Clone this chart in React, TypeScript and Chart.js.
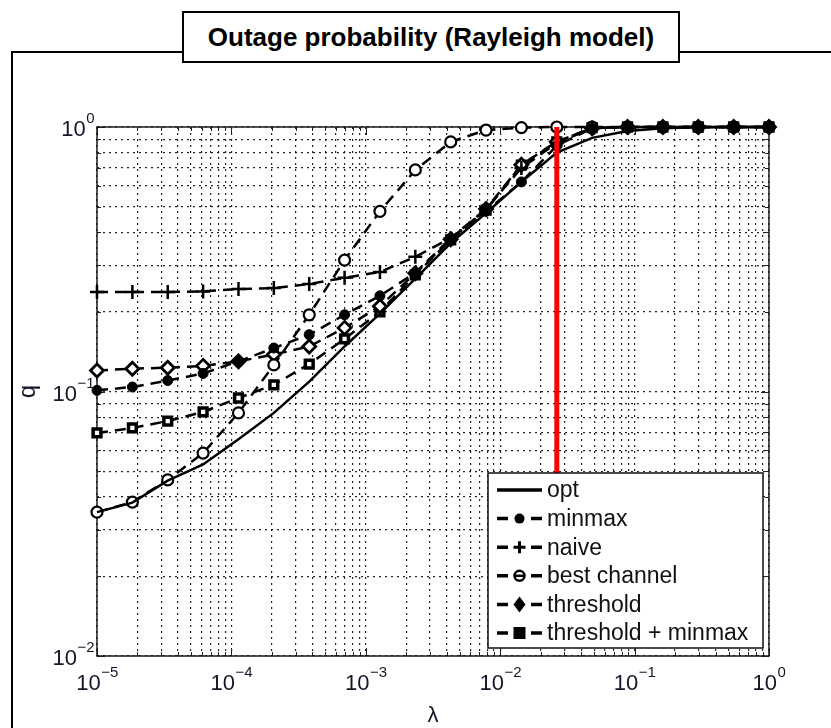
import React, { useEffect, useRef } from 'react';
import { Chart, registerables } from 'chart.js';

Chart.register(...registerables);

// ---- data ----
const LAMBDA = [1e-5, 1.833e-5, 3.36e-5, 6.158e-5, 1.129e-4, 2.069e-4, 3.793e-4, 6.952e-4, 1.274e-3, 2.336e-3,
  4.281e-3, 7.848e-3, 1.438e-2, 2.637e-2, 4.833e-2, 8.859e-2, 0.1624, 0.2976, 0.5456, 1];
const OPT = [0.035, 0.038, 0.046, 0.053, 0.066, 0.083, 0.109, 0.148, 0.197, 0.267, 0.364, 0.473, 0.62, 0.8, 0.91, 0.966, 0.99, 0.998, 1, 1];
const MINMAX = [0.101, 0.104, 0.11, 0.117, 0.13, 0.146, 0.164, 0.195, 0.23, 0.281, 0.38, 0.48, 0.62, 0.85, 0.99, 1, 1, 1, 1, 1];
const NAIVE = [0.238, 0.238, 0.238, 0.239, 0.244, 0.246, 0.255, 0.269, 0.283, 0.323, 0.38, 0.49, 0.7, 0.87, 0.99, 1, 1, 1, 1, 1];
const BEST = [0.035, 0.0382, 0.0463, 0.0585, 0.083, 0.126, 0.195, 0.314, 0.48, 0.688, 0.878, 0.974, 0.995, 1, 1, 1, 1, 1, 1, 1];
const THRESH = [0.12, 0.122, 0.123, 0.125, 0.13, 0.138, 0.148, 0.174, 0.21, 0.28, 0.376, 0.49, 0.72, 0.88, 0.99, 1, 1, 1, 1, 1];
const THRMIN = [0.0697, 0.0728, 0.0773, 0.0837, 0.0945, 0.106, 0.127, 0.158, 0.2, 0.276, 0.374, 0.485, 0.718, 0.878, 0.995, 1, 1, 1, 1, 1];
const RED_LAMBDA = [0.02637, 0.02637];
const RED_Q = [1, 0.0492];

const SERIES_NAMES = ['opt', 'minmax', 'naive', 'best channel', 'threshold', 'threshold + minmax'];
const X_TICKS = [1e-5, 1e-4, 1e-3, 1e-2, 1e-1, 1];
const X_TICK_EXP = ['\u22125', '\u22124', '\u22123', '\u22122', '\u22121', '0'];
const Y_TICKS = [0.01, 0.1, 1];
const Y_TICK_EXP = ['\u22122', '\u22121', '0'];
const TITLE = 'Outage probability (Rayleigh model)';
const X_TITLE = '\u03bb';
const Y_TITLE = 'q';

const gridFrom = (decades: number[]) => {
  const out: number[] = [];
  for (let i = 0; i < decades.length - 1; i++) {
    for (let m = 1; m <= 9; m++) out.push(+(m * decades[i]).toPrecision(6));
  }
  out.push(decades[decades.length - 1]);
  return out;
};
const X_GRID = gridFrom(X_TICKS);
const Y_GRID = gridFrom(Y_TICKS);
const isMajor = (v: number) => Math.abs(Math.log10(v) - Math.round(Math.log10(v))) < 1e-6;

const FONT = '"Liberation Sans", Arial, Helvetica, sans-serif';
const LABEL_COLOR = '#16162a';
const DASH = [11, 7];

const pts = (ys: number[]) => LAMBDA.map((x, i) => ({ x, y: ys[i] }));

function drawMarker(ctx: CanvasRenderingContext2D, kind: string, x: number, y: number) {
  ctx.save();
  ctx.fillStyle = '#000';
  ctx.strokeStyle = '#000';
  ctx.setLineDash([]);
  if (kind === 'minmax') {
    ctx.beginPath(); ctx.arc(x, y, 5, 0, Math.PI * 2); ctx.fill();
  } else if (kind === 'naive') {
    ctx.lineWidth = 3;
    ctx.beginPath(); ctx.moveTo(x - 6, y); ctx.lineTo(x + 6, y); ctx.moveTo(x, y - 6); ctx.lineTo(x, y + 6); ctx.stroke();
  } else if (kind === 'best') {
    ctx.lineWidth = 2.5;
    ctx.beginPath(); ctx.arc(x, y, 5, 0, Math.PI * 2); ctx.stroke();
    ctx.beginPath(); ctx.moveTo(x - 5, y); ctx.lineTo(x + 5, y); ctx.stroke();
  } else if (kind === 'threshold') {
    ctx.beginPath(); ctx.moveTo(x, y - 8); ctx.lineTo(x + 6, y); ctx.lineTo(x, y + 8); ctx.lineTo(x - 6, y); ctx.closePath(); ctx.fill();
  } else if (kind === 'thrmin') {
    ctx.fillRect(x - 6, y - 6, 12, 12);
  }
  ctx.restore();
}

function drawPow(ctx: CanvasRenderingContext2D, exp: string, x: number, baseY: number, align: 'center' | 'right') {
  ctx.font = `22px ${FONT}`;
  const w10 = ctx.measureText('10').width;
  ctx.font = `15px ${FONT}`;
  const we = ctx.measureText(exp).width;
  const total = w10 + we;
  const start = align === 'center' ? x - total / 2 : x - total;
  ctx.textAlign = 'left';
  ctx.textBaseline = 'alphabetic';
  ctx.fillStyle = LABEL_COLOR;
  ctx.font = `22px ${FONT}`;
  ctx.fillText('10', start, baseY);
  ctx.font = `15px ${FONT}`;
  ctx.fillText(exp, start + w10 + 0.5, baseY - 13);
}

const decor = {
  id: 'decor',
  beforeDatasetsDraw(chart: any) {
    const { ctx, chartArea: a, scales } = chart;
    ctx.save();
    ctx.strokeStyle = '#222';
    ctx.lineWidth = 1;
    ctx.beginPath();
    for (const v of X_GRID) {
      const x = Math.round(scales.x.getPixelForValue(v)) + 0.5;
      const len = isMajor(v) ? 8 : 4;
      ctx.moveTo(x, a.bottom); ctx.lineTo(x, a.bottom - len);
      ctx.moveTo(x, a.top); ctx.lineTo(x, a.top + len);
    }
    for (const v of Y_GRID) {
      const y = Math.round(scales.y.getPixelForValue(v)) + 0.5;
      const len = isMajor(v) ? 8 : 4;
      ctx.moveTo(a.left, y); ctx.lineTo(a.left + len, y);
      ctx.moveTo(a.right, y); ctx.lineTo(a.right - len, y);
    }
    ctx.stroke();
    ctx.lineWidth = 1.5;
    ctx.strokeStyle = '#1a1a1a';
    ctx.strokeRect(a.left, a.top, a.right - a.left, a.bottom - a.top);
    ctx.restore();
  },
  afterDatasetsDraw(chart: any) {
    const { ctx, chartArea: a, scales } = chart;
    ctx.save();
    // tick labels
    X_TICKS.forEach((v, i) => {
      const x = scales.x.getPixelForValue(v);
      drawPow(ctx, X_TICK_EXP[i], x, a.bottom + 34, 'center');
    });
    Y_TICKS.forEach((v, i) => {
      const y = scales.y.getPixelForValue(v);
      drawPow(ctx, Y_TICK_EXP[i], a.left - 3, y + 9, 'right');
    });
    // axis titles
    ctx.fillStyle = LABEL_COLOR;
    ctx.font = `22px ${FONT}`;
    ctx.textAlign = 'center';
    ctx.textBaseline = 'middle';
    ctx.fillText(X_TITLE, (a.left + a.right) / 2, a.bottom + 60);
    ctx.save();
    ctx.translate(28, (a.top + a.bottom) / 2);
    ctx.rotate(-Math.PI / 2);
    ctx.font = `24px ${FONT}`;
    ctx.fillText(Y_TITLE, 0, 0);
    ctx.restore();

    // legend box
    const lx = 488, ly = 473, lw = 275, lh = 175;
    ctx.fillStyle = '#fff';
    ctx.fillRect(lx, ly, lw, lh);
    ctx.strokeStyle = '#111';
    ctx.lineWidth = 1.5;
    ctx.strokeRect(lx, ly, lw, lh);
    const kinds = ['opt', 'minmax', 'naive', 'best', 'threshold', 'thrmin'];
    SERIES_NAMES.forEach((name, i) => {
      const y = ly + 17 + i * 28.6;
      ctx.strokeStyle = '#000';
      ctx.lineWidth = 3.5;
      ctx.setLineDash([]);
      ctx.beginPath();
      if (kinds[i] === 'opt') {
        ctx.moveTo(497, y); ctx.lineTo(542, y);
      } else {
        ctx.moveTo(497, y); ctx.lineTo(508, y);
        ctx.moveTo(531, y); ctx.lineTo(542, y);
      }
      ctx.stroke();
      if (kinds[i] !== 'opt') drawMarker(ctx, kinds[i], 519.5, y);
      ctx.fillStyle = '#111';
      ctx.font = `23px ${FONT}`;
      ctx.textAlign = 'left';
      ctx.textBaseline = 'middle';
      ctx.fillText(name, 547, y + 1);
    });
    ctx.restore();
  },
};

export default function App() {
  const ref = useRef<HTMLCanvasElement | null>(null);
  useEffect(() => {
    if (!ref.current) return;
    const common = {
      borderColor: '#000',
      borderWidth: 2.5,
      borderDash: DASH,
      fill: false,
      tension: 0,
      clip: false as any,
      pointBorderColor: '#000',
    };
    const chart = new Chart(ref.current, {
      type: 'line',
      data: {
        datasets: [
          {
            label: 'red', data: RED_LAMBDA.map((x, i) => ({ x, y: RED_Q[i] })),
            borderColor: '#ff0000', borderWidth: 5, pointRadius: 0, fill: false, clip: false as any,
          },
          { ...common, label: SERIES_NAMES[0], data: pts(OPT), borderDash: [], pointRadius: 0 },
          { ...common, label: SERIES_NAMES[1], data: pts(MINMAX), pointStyle: 'circle', pointRadius: 5, pointBackgroundColor: '#000', pointBorderWidth: 1 },
          { ...common, label: SERIES_NAMES[2], data: pts(NAIVE), pointStyle: 'cross', pointRadius: 7, pointBorderWidth: 2.5 },
          { ...common, label: SERIES_NAMES[3], data: pts(BEST), pointStyle: 'circle', pointRadius: 5.5, pointBackgroundColor: '#fff', pointBorderWidth: 2.2 },
          { ...common, label: SERIES_NAMES[4], data: pts(THRESH), pointStyle: 'rectRot', pointRadius: 6.5, pointBackgroundColor: '#fff', pointBorderWidth: 2.8 },
          { ...common, label: SERIES_NAMES[5], data: pts(THRMIN), pointStyle: 'rect', pointRadius: 5.5, pointBackgroundColor: '#fff', pointBorderWidth: 3.5 },
        ],
      },
      options: {
        responsive: false,
        animation: false,
        layout: { padding: { left: 97, right: 62, top: 127, bottom: 72 } },
        plugins: { legend: { display: false }, tooltip: { enabled: false }, title: { display: false } },
        scales: {
          x: {
            type: 'logarithmic', min: 1e-5, max: 1,
            afterBuildTicks: (s: any) => { s.ticks = X_GRID.map((v) => ({ value: v, major: isMajor(v) })); },
            ticks: { display: false },
            grid: { color: 'rgba(0,0,0,0.85)', lineWidth: 1.2, drawTicks: false },
            border: { display: false, dash: [2, 4] },
          },
          y: {
            type: 'logarithmic', min: 0.01, max: 1,
            afterBuildTicks: (s: any) => { s.ticks = Y_GRID.map((v) => ({ value: v, major: isMajor(v) })); },
            ticks: { display: false },
            grid: { color: 'rgba(0,0,0,0.85)', lineWidth: 1.2, drawTicks: false },
            border: { display: false, dash: [2, 4] },
          },
        },
      } as any,
      plugins: [decor],
    });
    return () => chart.destroy();
  }, []);

  return (
    <div style={{ position: 'absolute', left: 0, top: 0, width: 831, height: 728, background: '#fff', overflow: 'hidden' }}>
      <div style={{ position: 'absolute', left: 11, top: 51, width: 830, height: 700, borderLeft: '2px solid #000', borderTop: '2px solid #000', boxSizing: 'border-box' }} />
      <canvas ref={ref} width={831} height={728} style={{ position: 'absolute', left: 0, top: 0, width: 831, height: 728 }} />
      <div style={{
        position: 'absolute', left: 182, top: 11, width: 498, height: 52, boxSizing: 'border-box',
        border: '2px solid #000', background: '#fff', display: 'flex', alignItems: 'center', justifyContent: 'center',
        fontFamily: 'Arial, "Liberation Sans", Helvetica, sans-serif', fontWeight: 'bold', fontSize: 26, color: '#000',
      }}>{TITLE}</div>
    </div>
  );
}
